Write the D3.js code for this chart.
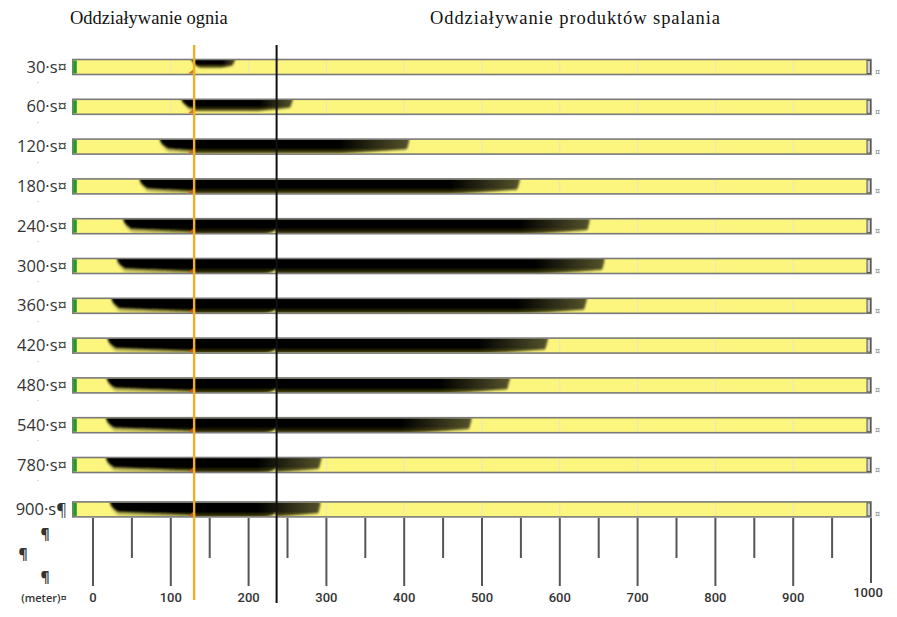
<!DOCTYPE html>
<html>
<head>
<meta charset="utf-8">
<script src="https://cdn.jsdelivr.net/npm/d3@7"></script>
<style>
  body { margin: 0; background: #fff; }
  svg { display: block; }
</style>
</head>
<body>
<svg id="chart" width="897" height="617"></svg>
<script>
// Smoke spread along the tunnel (metres) at successive times
const rowLabels  = ["30·s¤", "60·s¤", "120·s¤", "180·s¤", "240·s¤", "300·s¤", "360·s¤", "420·s¤", "480·s¤", "540·s¤", "780·s¤", "900·s¶"];
const smokeStart = [127, 114, 86, 60, 39, 31, 24, 19, 18, 17, 17, 22];
const smokeEnd   = [183, 257, 407, 549, 639, 658, 635, 585, 536, 487, 294, 293];
const smokeDepth = [0.5, 0.72, 0.9, 0.95, 1, 1, 1, 1, 1, 1, 1, 1];
const ventNotch  = [0, 0, 0, 0, 1, 1, 1, 1, 1, 1, 1, 1];

// Tunnel extent and reference positions (metres)
const tubeStart = -26, tubeEnd = 1000;
const fireAt = 130, ventAt = 236;

const majorTicks = d3.range(0, 1001, 100);
const minorTicks = d3.range(50, 1000, 100);
const titleFire  = "Oddziaływanie ognia";
const titleSmoke = "Oddziaływanie produktów spalania";
const unitLabel  = "(meter)¤";

const svg = d3.select("#chart");
const defs = svg.append("defs");

const x = d3.scaleLinear().domain([0, 1000]).range([93, 871]);
const rowY = d3.scaleLinear().domain([0, 10]).range([67, 465]);
const rowCenter = i => rowY(i) + (i === 11 ? 4.6 : 0);
const barH = 15;

// vertical shading of the smoke layer: dense at the ceiling, thinner towards the floor
const vg = defs.append("linearGradient").attr("id", "smokeV")
  .attr("x1", 0).attr("y1", 0).attr("x2", 0).attr("y2", 1);
[[0, "#000000"], [0.62, "#000000"], [0.84, "#252307"], [1, "#6e6829"]]
  .forEach(([o, c]) => vg.append("stop").attr("offset", o).attr("stop-color", c));

const soft = defs.append("filter").attr("id", "soft")
  .attr("x", "-5%").attr("y", "-30%").attr("width", "110%").attr("height", "160%");
soft.append("feGaussianBlur").attr("stdDeviation", 0.8);
const haze = defs.append("filter").attr("id", "haze")
  .attr("x", "-5%").attr("y", "-40%").attr("width", "110%").attr("height", "180%");
haze.append("feGaussianBlur").attr("stdDeviation", 1.8);

// titles
svg.append("text").attr("x", 70).attr("y", 24)
  .attr("font-family", "Liberation Serif, Times New Roman, serif")
  .attr("font-size", 18.5).attr("fill", "#111").text(titleFire);
svg.append("text").attr("x", 430).attr("y", 24)
  .attr("font-family", "Liberation Serif, Times New Roman, serif")
  .attr("font-size", 18.5).attr("fill", "#111")
  .attr("textLength", 290).attr("lengthAdjust", "spacing").text(titleSmoke);

const bx0 = x(tubeStart), bx1 = x(tubeEnd);
const xf = x(fireAt), xv = x(ventAt);

rowLabels.forEach((lab, i) => {
  const cy = rowCenter(i);
  const top = cy - barH / 2;
  const g = svg.append("g");

  // row label
  g.append("text").attr("x", 67).attr("y", cy + 5.5).attr("text-anchor", "end")
    .attr("font-family", "Open Sans, Noto Sans, sans-serif")
    .attr("font-size", 16.5).attr("font-weight", 500).attr("fill", "#333").text(lab);
  if (i < 11) {
    g.append("text").attr("x", 38).attr("y", cy + 16).attr("text-anchor", "middle")
      .attr("font-family", "Open Sans, sans-serif").attr("font-size", 6)
      .attr("fill", "#777").text(",");
  }

  // tube body
  g.append("rect").attr("x", bx0).attr("y", top).attr("width", bx1 - bx0).attr("height", barH)
    .attr("fill", "#fcf67e");

  // faint section joints every 100 m
  g.selectAll("line.joint").data(majorTicks.slice(1, -1)).join("line")
    .attr("x1", d => x(d)).attr("x2", d => x(d)).attr("y1", top + 1).attr("y2", top + barH - 1)
    .attr("stroke", "#e9e6c4").attr("stroke-width", 1);

  // smoke layer
  const clipId = "clip" + i;
  defs.append("clipPath").attr("id", clipId).append("rect")
    .attr("x", bx0 + 4).attr("y", top + 0.5).attr("width", bx1 - bx0 - 8).attr("height", barH - 1);

  const x0 = x(smokeStart[i]), x1 = x(smokeEnd[i]);
  const tailLen = Math.min(70, 0.3 * (x1 - x0));
  const depthAt = (px, extra) => {
    const s = px - x0, e = x1 - px;
    let d;
    if (px < xf) {
      const t = Math.max(0, Math.min(1, s / Math.max(1, xf - x0)));
      d = 0.62 + 0.24 * t + extra;
    } else {
      d = 1.05;
    }
    // rounded smoke front
    d *= Math.sqrt(Math.min(1, s / 8));
    // thinning tail
    if (e < tailLen) d *= 0.7 + 0.3 * (e / tailLen);
    if (e < 3) d *= e / 3;
    // bulge lifted beside the ventilation shaft
    if (ventNotch[i] && px > xv - 14 && px < xv) {
      d = Math.min(d, 0.6 + 0.45 * Math.sqrt((xv - px) / 14));
    }
    return Math.max(0, d * smokeDepth[i]);
  };
  const pts = d3.range(x0, x1 + 0.01, 1);
  const area = extra => d3.area().x(p => p).y0(top - 2)
    .y1(p => top + barH * depthAt(p, extra)).curve(d3.curveMonotoneX);

  const maskId = "fade" + i;
  const hg = defs.append("linearGradient").attr("id", "hg" + i)
    .attr("gradientUnits", "userSpaceOnUse")
    .attr("x1", x1 - tailLen).attr("x2", x1).attr("y1", 0).attr("y2", 0);
  hg.append("stop").attr("offset", 0).attr("stop-color", "#fff");
  hg.append("stop").attr("offset", 1).attr("stop-color", "#a8a8a8");
  defs.append("mask").attr("id", maskId).attr("maskUnits", "userSpaceOnUse")
    .append("rect").attr("x", x0 - 10).attr("y", top - 5).attr("width", x1 - x0 + 20).attr("height", barH + 10)
    .attr("fill", `url(#hg${i})`);

  const sg = g.append("g").attr("clip-path", `url(#${clipId})`)
    .append("g").attr("mask", `url(#${maskId})`);
  // soft haze beneath the dense layer
  sg.append("path").attr("d", area(0.22)(pts)).attr("fill", "#4a4612")
    .attr("opacity", 0.45).attr("filter", "url(#haze)");
  sg.append("path").attr("d", area(0)(pts)).attr("fill", "url(#smokeV)")
    .attr("filter", "url(#soft)");

  // fire source mark
  g.append("path")
    .attr("d", `M${xf - 6},${top + barH - 1} L${xf - 1},${top + barH - 5} L${xf},${top + barH - 1} Z`)
    .attr("fill", "#d8531c").attr("opacity", 0.85);

  // tube outline and end caps
  g.append("rect").attr("x", bx0).attr("y", top).attr("width", bx1 - bx0).attr("height", barH)
    .attr("fill", "none").attr("stroke", "#7a7a7a").attr("stroke-width", 1.6);
  g.append("rect").attr("x", bx0 + 0.5).attr("y", top + 1).attr("width", 3.5).attr("height", barH - 2)
    .attr("fill", "#1e9a2a");
  g.append("rect").attr("x", bx1 - 4).attr("y", top + 1).attr("width", 3.5).attr("height", barH - 2)
    .attr("fill", "#cfcfcf").attr("stroke", "#555").attr("stroke-width", 1);
  g.append("text").attr("x", bx1 + 4).attr("y", cy + 8)
    .attr("font-family", "DejaVu Sans, sans-serif").attr("font-size", 8)
    .attr("fill", "#888").text("¤");
});

// distance scale
const axisTop = rowCenter(11) + barH / 2 + 1;
svg.append("g").selectAll("line").data(majorTicks).join("line")
  .attr("x1", d => x(d)).attr("x2", d => x(d))
  .attr("y1", axisTop).attr("y2", d => d === 1000 ? 583 : 586)
  .attr("stroke", "#555").attr("stroke-width", 2);
svg.append("g").selectAll("line").data(minorTicks).join("line")
  .attr("x1", d => x(d)).attr("x2", d => x(d))
  .attr("y1", axisTop).attr("y2", 558)
  .attr("stroke", "#555").attr("stroke-width", 2);
svg.append("g").selectAll("text").data(majorTicks).join("text")
  .attr("x", d => x(d) - (d === 1000 ? 3 : 0)).attr("y", d => d === 1000 ? 597 : 602)
  .attr("text-anchor", "middle")
  .attr("font-family", "Roboto, Open Sans, sans-serif").attr("font-size", 13)
  .attr("font-weight", 500).attr("fill", "#333").text(d => d);

// leftover paragraph marks and unit
const para = [[45, 539], [23, 559], [45, 582]];
svg.append("g").selectAll("text").data(para).join("text")
  .attr("x", d => d[0]).attr("y", d => d[1]).attr("text-anchor", "middle")
  .attr("font-family", "Open Sans, sans-serif").attr("font-size", 14)
  .attr("font-weight", 700).attr("fill", "#333").text("¶");
svg.append("text").attr("x", 44).attr("y", 602).attr("text-anchor", "middle")
  .attr("font-family", "Open Sans, sans-serif").attr("font-size", 11)
  .attr("font-weight", 600).attr("fill", "#333").text(unitLabel);

// fire position and ventilation shaft
svg.append("line").attr("x1", xf).attr("x2", xf).attr("y1", 45).attr("y2", 600)
  .attr("stroke", "#f2b021").attr("stroke-width", 2.4);
svg.append("line").attr("x1", xv).attr("x2", xv).attr("y1", 45).attr("y2", 603)
  .attr("stroke", "#111").attr("stroke-width", 2);
</script>
</body>
</html>
